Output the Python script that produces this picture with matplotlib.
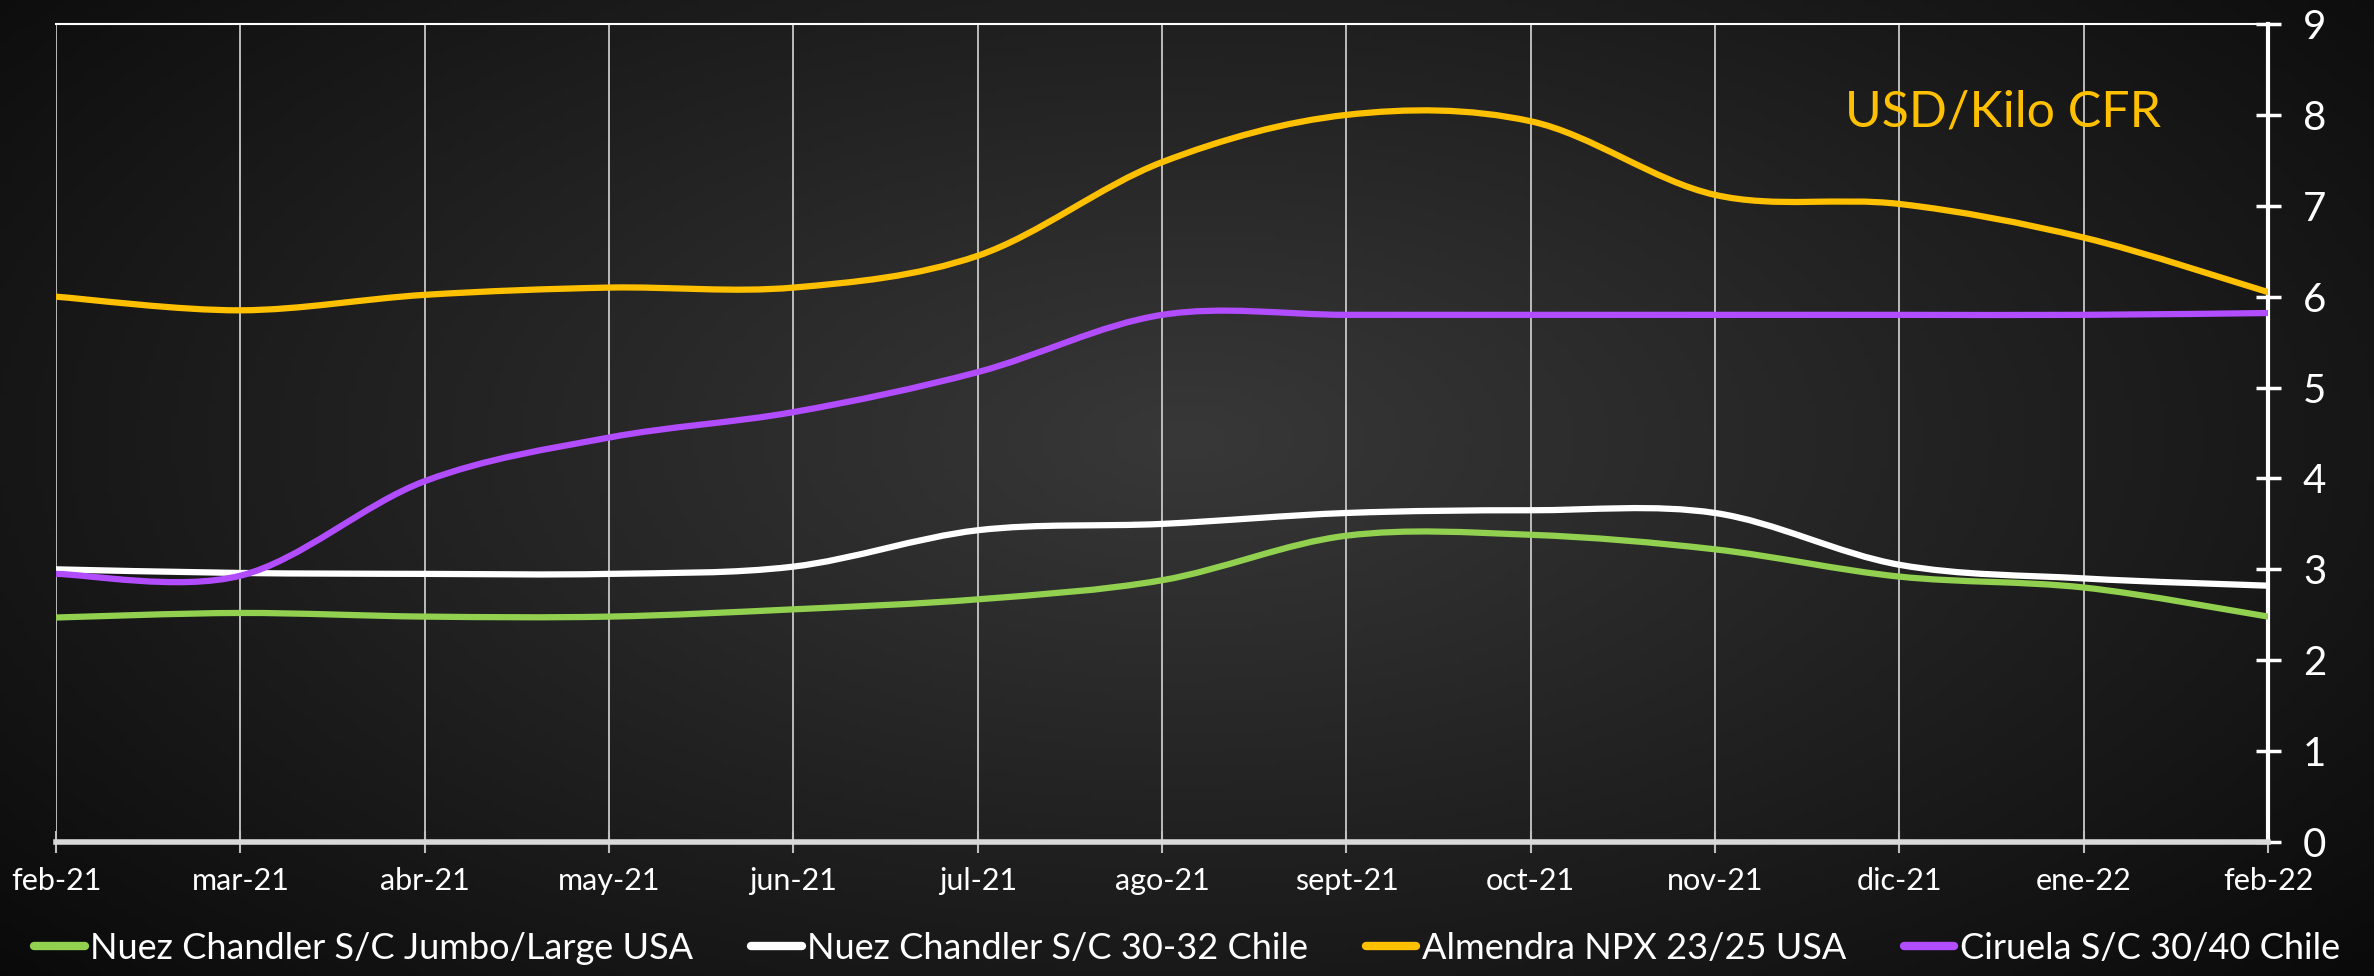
import numpy as np
import matplotlib.pyplot as plt
from matplotlib.path import Path
from matplotlib.patches import PathPatch
from matplotlib.lines import Line2D

# data (USD/Kilo CFR)
months = ['feb-21', 'mar-21', 'abr-21', 'may-21', 'jun-21', 'jul-21', 'ago-21',
          'sept-21', 'oct-21', 'nov-21', 'dic-21', 'ene-22', 'feb-22']
nuez_jumbo = [2.47, 2.52, 2.48, 2.48, 2.56, 2.67, 2.88, 3.37, 3.38, 3.22, 2.92, 2.80, 2.48]
nuez_chile = [3.00, 2.96, 2.95, 2.95, 3.03, 3.43, 3.50, 3.62, 3.65, 3.62, 3.05, 2.90, 2.82]
almendra = [6.00, 5.85, 6.02, 6.10, 6.10, 6.45, 7.48, 8.00, 7.93, 7.12, 7.02, 6.65, 6.05]
ciruela = [2.95, 2.93, 3.97, 4.45, 4.73, 5.17, 5.80, 5.80, 5.80, 5.80, 5.80, 5.80, 5.82]

series = [
    ('Nuez Chandler S/C Jumbo/Large USA', nuez_jumbo, '#92D050'),
    ('Nuez Chandler S/C 30-32 Chile', nuez_chile, '#FFFFFF'),
    ('Almendra NPX 23/25 USA', almendra, '#FFC000'),
    ('Ciruela S/C 30/40 Chile', ciruela, '#B14CFF'),
]

font = ['Lato', 'DejaVu Sans']


def smooth_path(xs, ys):
    # bezier segments like a spreadsheet "smoothed line"
    pts = np.column_stack([xs, ys]).astype(float)
    n = len(pts)
    verts = [pts[0]]
    codes = [Path.MOVETO]
    for i in range(n - 1):
        p0 = pts[i - 1] if i > 0 else pts[i]
        p1 = pts[i]
        p2 = pts[i + 1]
        p3 = pts[i + 2] if i + 2 < n else pts[i + 1]
        verts += [p1 + (p2 - p0) / 6, p2 - (p3 - p1) / 6, p2]
        codes += [Path.CURVE4] * 3
    return Path(verts, codes)


fig = plt.figure(figsize=(23.74, 9.76), dpi=100)

# dark radial background
bg = fig.add_axes([0, 0, 1, 1], zorder=-5)
gx, gy = np.meshgrid(np.linspace(0, 1, 400), np.linspace(0, 1, 200))
r = np.sqrt(((gx - 0.5) / 0.75) ** 2 + ((gy - 0.55) / 0.9) ** 2)
shade = np.clip(0.22 - 0.2 * r, 0.03, 0.25)
bg.imshow(np.dstack([shade] * 3), extent=[0, 1, 0, 1], aspect='auto', origin='lower')
bg.axis('off')

ax = fig.add_axes([0.0236, 0.1373, 0.9318, 0.8381])
ax.patch.set_alpha(0)

x = np.arange(len(months))
for name, vals, col in series:
    ax.add_patch(PathPatch(smooth_path(x, vals), facecolor='none', edgecolor=col,
                           lw=4.5, capstyle='round', zorder=3))

ax.set_xlim(0, len(months) - 1)
ax.set_ylim(0, 9)

ax.set_xticks(x)
ax.set_xticklabels(months, fontsize=22, color='white', family=font)
ax.tick_params(axis='x', direction='inout', length=16, width=1.5, color='#bfbfbf', pad=10)
ax.grid(axis='x', color='#c8c8c8', lw=1.3)

ax.yaxis.tick_right()
ax.set_yticks(range(10))
ax.set_yticklabels([str(v) for v in range(10)], fontsize=29, color='white', family=font)
ax.tick_params(axis='y', direction='inout', length=18, width=2.5, color='white', pad=16)

ax.spines['left'].set_visible(False)
ax.spines['top'].set_color('white')
ax.spines['top'].set_linewidth(1.5)
ax.spines['right'].set_color('white')
ax.spines['right'].set_linewidth(3)
ax.spines['bottom'].set_color('#d9d9d9')
ax.spines['bottom'].set_linewidth(4)

fig.text(0.8437, 0.885, 'USD/Kilo CFR', color='#FFC000', fontsize=36,
         family=font, ha='center', va='center')

handles = [Line2D([], [], color=c, lw=6, solid_capstyle='round') for _, _, c in series]
fig.legend(handles, [s[0] for s in series], loc='lower center', ncol=4,
           bbox_to_anchor=(0.5, -0.022), frameon=False, handlelength=1.4,
           handletextpad=0.15, columnspacing=1.6,
           prop={'family': font, 'size': 26}, labelcolor='white')

fig.savefig('out.png', dpi=100)
